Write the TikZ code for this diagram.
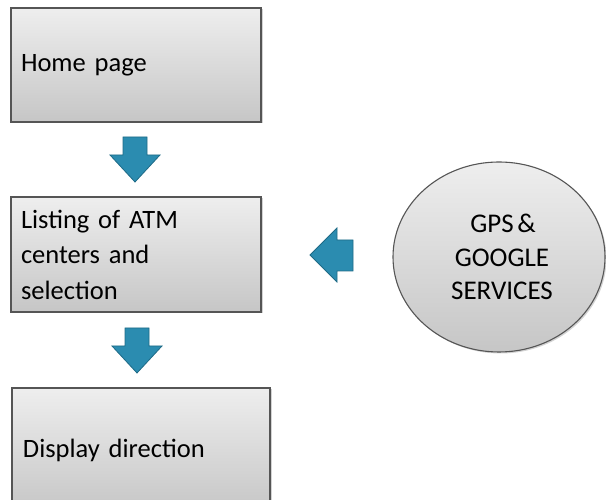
\documentclass[tikz,border=0pt]{standalone}
\usepackage{fontspec}
\setmainfont{Carlito}[WordSpace=0.6]
\usetikzlibrary{shadows,shapes.geometric}
\definecolor{boxtop}{HTML}{EEEEEE}
\definecolor{boxbot}{HTML}{C6C6C6}
\definecolor{boxline}{HTML}{555555}
\definecolor{arrfill}{HTML}{2B8CB0}
\definecolor{arrline}{HTML}{1E6A86}
\tikzset{
  box/.style={rectangle, draw=boxline, line width=1.1pt, top color=boxtop, bottom color=boxbot,
    drop shadow={shadow xshift=1.5pt, shadow yshift=-1.5pt, opacity=0.35},
    align=left, inner xsep=10pt, inner ysep=0pt,
    font=\fontsize{26.5}{35.5}\selectfont},
  oval/.style={ellipse, draw=boxline, line width=1.1pt, top color=boxtop, bottom color=boxbot,
    drop shadow={shadow xshift=1.5pt, shadow yshift=-1.5pt, opacity=0.35},
    align=center, inner sep=0pt, font=\fontsize{27}{33.5}\selectfont},
  blockarrow/.style={fill=arrfill, draw=arrline, line width=0.8pt, line join=miter}
}
\begin{document}
\begin{tikzpicture}[x=1pt,y=1pt]
\useasboundingbox (0,0) rectangle (606,500);
\node[box, minimum width=250pt, minimum height=114pt, text width=230pt] (home) at (136,435) {Home page};
\node[box, minimum width=250pt, minimum height=115pt, text width=230pt] (list) at (136,245.5) {Listing of ATM\\centers and\\selection};
\node[box, minimum width=258pt, minimum height=124pt, text width=236pt] (disp) at (141,50) {Display direction};
\node[oval, minimum width=212pt, minimum height=190pt] (gps) at (499,243) {\hspace*{8pt}GPS \&\\\hspace*{6pt}GOOGLE\\\hspace*{6pt}SERVICES};
% down arrow 1
\draw[blockarrow] (123,363) -- (147,363) -- (147,345) -- (160,345) -- (135,318) -- (110,345) -- (123,345) -- cycle;
% down arrow 2
\draw[blockarrow] (125,172) -- (149,172) -- (149,154) -- (162,154) -- (137,127) -- (112,154) -- (125,154) -- cycle;
% left arrow
\draw[blockarrow] (353,260) -- (353,229) -- (337,229) -- (337,218) -- (310,245) -- (337,272) -- (337,260) -- cycle;
\end{tikzpicture}
\end{document}
